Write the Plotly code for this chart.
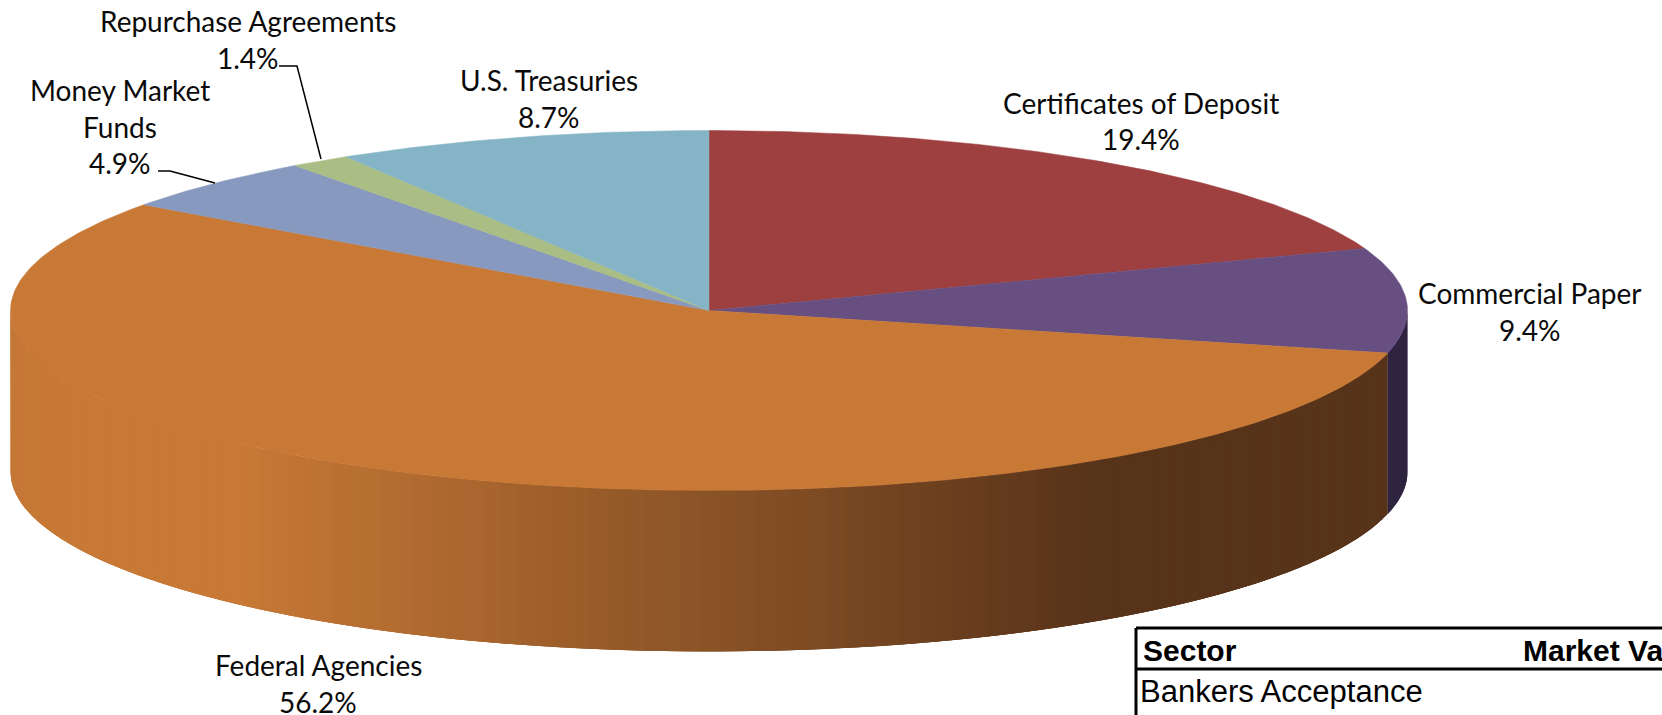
import numpy as np
import plotly.graph_objects as go

# ---- data ----
sectors = ["Certificates of Deposit", "Commercial Paper", "Federal Agencies",
           "Money Market Funds", "Repurchase Agreements", "U.S. Treasuries"]
shares = [19.4, 9.4, 56.2, 4.9, 1.4, 8.7]
top_colors = ["#9E4040", "#674F82", "#C87936", "#8799BE", "#AABD84", "#84B4C6"]
side_dark = ["#5E2626", "#2E2440", "#57331A", "#505B71", "#65704E", "#4E6B76"]

table_header = ["Sector", "Market Value"]
table_row = ["Bankers Acceptance"]

# ---- geometry (page pixels, axes map 1:1) ----
W, H = 1662, 715
CX, CY, RX, RY, DEPTH = 709.0, 310.5, 698.5, 180.0, 161.0
FONT = "Lato"
FS = 28


def ex(t):
    return CX + RX * np.sin(np.radians(t))


def ey(t):
    return CY - RY * np.cos(np.radians(t))


def hex2rgb(h):
    return np.array([int(h[i:i + 2], 16) for i in (1, 3, 5)], float)


def side_color(light, dark, x):
    # lit on the left, shaded to the right, with a faint darkening at the far-left rim
    f = np.clip((x - 240) / (1105 - 240), 0, 1)
    rim = 0.02 * np.clip((60 - x) / 45, 0, 1)
    c = hex2rgb(light) * (1 - f - rim) + hex2rgb(dark) * (f + rim)
    return "rgb(%d,%d,%d)" % tuple(c)


fig = go.Figure()
edges = np.concatenate([[0], np.cumsum(shares)]) * 3.6

# side wall: strips overlap and are painted in order, so no seams show
STEP = 1.5
for i, name in enumerate(sectors):
    a, b = max(edges[i], 90), min(edges[i + 1], 270)
    if b <= a:
        continue
    n = max(int((b - a) / STEP), 1)
    ts = np.linspace(a, b, n + 1)
    for t0, t1 in zip(ts[:-1], ts[1:]):
        arc = np.linspace(t0, min(t1 + 2 * STEP, b), 6)
        xs = np.concatenate([ex(arc), ex(arc[::-1])])
        ys = np.concatenate([ey(arc), ey(arc[::-1]) + DEPTH])
        if name == "Commercial Paper":
            col = side_dark[i]
        else:
            col = side_color(top_colors[i], side_dark[i], ex((t0 + t1) / 2))
        fig.add_trace(go.Scatter(x=xs, y=ys, mode="lines", fill="toself", fillcolor=col,
                                 line=dict(width=0), hoverinfo="skip", showlegend=False))

# top face
for i, name in enumerate(sectors):
    arc = np.linspace(edges[i], edges[i + 1], max(int(shares[i] * 6), 8))
    xs = np.concatenate([[CX], ex(arc), [CX]])
    ys = np.concatenate([[CY], ey(arc), [CY]])
    fig.add_trace(go.Scatter(x=xs, y=ys, mode="lines", fill="toself", fillcolor=top_colors[i],
                             line=dict(color=top_colors[i], width=0.5), name=name,
                             text=f"{name}: {shares[i]}%", hoverinfo="text", showlegend=False))

# labels: one annotation per line to hold the original line spacing
label_lines = {
    "Certificates of Deposit": ["Certificates of Deposit"],
    "Commercial Paper": ["Commercial Paper"],
    "Federal Agencies": ["Federal Agencies"],
    "Money Market Funds": ["Money Market", "Funds"],
    "Repurchase Agreements": ["Repurchase Agreements"],
    "U.S. Treasuries": ["U.S. Treasuries"],
}
label_anchor = {  # centre x, first-line centre y
    "Certificates of Deposit": (1141, 102.5),
    "Commercial Paper": (1530, 293),
    "Federal Agencies": (318, 665),
    "Money Market Funds": (120, 90),
    "Repurchase Agreements": (248, 21),
    "U.S. Treasuries": (549, 80),
}
LINE_STEP = 36.5
for name, share in zip(sectors, shares):
    ax, ay = label_anchor[name]
    for k, line in enumerate(label_lines[name] + [f"{share}%"]):
        fig.add_annotation(x=ax, y=ay + k * LINE_STEP, text=line, showarrow=False,
                           xanchor="center", yanchor="middle",
                           font=dict(family=FONT, size=FS, color="#0A0A0A"))

# leader lines
leaders = {
    "Repurchase Agreements": ([279, 297, 321], [66, 66, 159]),
    "Money Market Funds": ([158, 170, 215], [171, 171, 183]),
}
for xs, ys in leaders.values():
    fig.add_trace(go.Scatter(x=xs, y=ys, mode="lines", line=dict(color="#000000", width=1.5),
                             hoverinfo="skip", showlegend=False))

# table fragment, running off the page
T_L, T_T, T_M = 1136, 628, 669
for xs, ys in [([T_L, T_L], [T_T, H]), ([T_L, W], [T_T, T_T]), ([T_L, W], [T_M, T_M])]:
    fig.add_trace(go.Scatter(x=xs, y=ys, mode="lines", line=dict(color="#000000", width=3),
                             hoverinfo="skip", showlegend=False))
fig.add_annotation(x=1141, y=650, text=f"<b>{table_header[0]}</b>", showarrow=False, xanchor="left",
                   yanchor="middle", font=dict(family="Liberation Sans", size=30, color="#000000"))
fig.add_annotation(x=1521, y=650, text=f"<b>{table_header[1]}</b>", showarrow=False, xanchor="left",
                   yanchor="middle", font=dict(family="Liberation Sans", size=30, color="#000000"))
fig.add_annotation(x=1138, y=691, text=table_row[0], showarrow=False, xanchor="left",
                   yanchor="middle", font=dict(family="Liberation Sans", size=31, color="#000000"))

fig.update_layout(width=W, height=H, margin=dict(l=0, r=0, t=0, b=0),
                  paper_bgcolor="white", plot_bgcolor="white", showlegend=False,
                  xaxis=dict(range=[0, W], visible=False, fixedrange=True),
                  yaxis=dict(range=[H, 0], visible=False, fixedrange=True))
fig.write_html("out.html", config={"displayModeBar": False},
               post_script="document.body.style.margin='0';")
